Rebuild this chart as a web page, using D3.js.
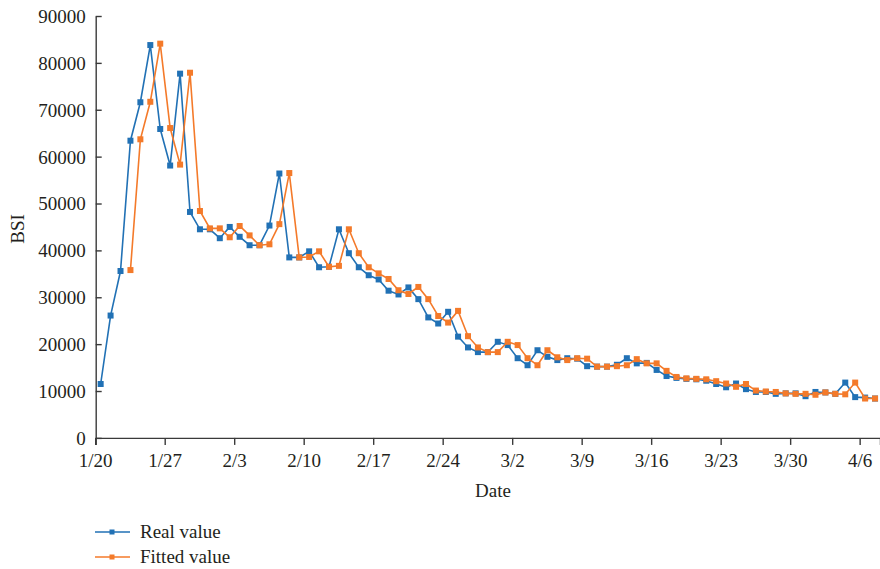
<!DOCTYPE html>
<html>
<head>
<meta charset="utf-8">
<script src="https://cdn.jsdelivr.net/npm/d3@7"></script>
<style>
  body { margin: 0; background: #fff; }
  text { font-family: "Liberation Serif", "Times New Roman", serif; fill: #231f20; }
</style>
</head>
<body>
<svg id="chart" width="880" height="569"></svg>
<script>
// daily BSI values, 1/20 .. 4/7
const realValue = [
  11500, 26100, 35600, 63400, 71600, 83800, 65900, 58100, 77700, 48200,
  44500, 44500, 42600, 45000, 42900, 41100, 41100, 45300, 56400, 38500,
  38500, 39800, 36400, 36500, 44500, 39400, 36400, 34700, 33800, 31400,
  30600, 32100, 29600, 25700, 24400, 26900, 21600, 19300, 18300, 18300,
  20500, 19800, 17000, 15500, 18700, 17300, 16600, 17000, 16900, 15300,
  15200, 15200, 15600, 17000, 15900, 16000, 14500, 13200, 12800, 12600,
  12500, 12200, 11500, 10800, 11600, 10400, 9800, 9800, 9400, 9500,
  9500, 8900, 9800, 9700, 9400, 11800, 8700, 8600, 8400
];

// fitted series starts on 1/23
const fittedValue = [
  null, null, null, 35800, 63700, 71700, 84100, 66100, 58300, 77900,
  48400, 44700, 44700, 42800, 45200, 43200, 41100, 41300, 45600, 56500,
  38500, 38600, 39800, 36500, 36700, 44500, 39400, 36400, 35100, 33900,
  31500, 30700, 32200, 29600, 26000, 24600, 27100, 21700, 19300, 18300,
  18300, 20500, 19800, 17000, 15500, 18700, 17200, 16600, 17000, 16900,
  15200, 15200, 15300, 15500, 16800, 15900, 15900, 14300, 13000, 12700,
  12600, 12500, 12100, 11600, 10900, 11500, 10100, 9900, 9800, 9500,
  9400, 9400, 9200, 9700, 9400, 9300, 11800, 8400, 8400
];

const dateTicks = ["1/20", "1/27", "2/3", "2/10", "2/17", "2/24", "3/2", "3/9", "3/16", "3/23", "3/30", "4/6"];
const yTicks = [0, 10000, 20000, 30000, 40000, 50000, 60000, 70000, 80000, 90000];

const series = [
  { name: "Real value", values: realValue, color: "#2171b5" },
  { name: "Fitted value", values: fittedValue, color: "#f47a2a" }
];

const margin = { top: 16, left: 95.7, bottom: 437.9, right: 880 };
const svg = d3.select("#chart");

const days = d3.range(realValue.length);
const x = d3.scaleBand()
  .domain(days)
  .range([margin.left, margin.right])
  .paddingInner(0)
  .paddingOuter(0);

const y = d3.scaleLinear()
  .domain([0, 90000])
  .range([margin.bottom, margin.top]);

const cx = i => x(i) + x.bandwidth() / 2;

// y axis, ticks pointing inward
const yAxis = svg.append("g")
  .attr("transform", `translate(${margin.left},0)`)
  .call(d3.axisLeft(y).tickValues(yTicks).tickSizeInner(-6).tickSizeOuter(0).tickPadding(10).tickFormat(d3.format("d")));

// x axis, tick at the start of every 7th day
const xAxis = svg.append("g")
  .attr("transform", `translate(0,${margin.bottom})`)
  .call(d3.axisBottom(x)
    .tickValues(d3.range(0, realValue.length, 7))
    .tickFormat((d, i) => dateTicks[i])
    .tickSizeOuter(0)
    .tickSize(7)
    .tickPadding(9));
xAxis.selectAll(".tick").attr("transform", d => `translate(${x(d)},0)`);

[yAxis, xAxis].forEach(a => {
  a.selectAll("path, line").attr("stroke", "#3a3a3a").attr("stroke-width", 1.4);
  a.selectAll("text").attr("font-size", 19).attr("fill", "#231f20")
    .style("font-family", "'Liberation Serif', serif");
});
yAxis.selectAll("text").attr("dy", "0.34em");

// axis titles
svg.append("text")
  .attr("x", 493).attr("y", 497)
  .attr("text-anchor", "middle")
  .attr("font-size", 19)
  .text("Date");

svg.append("text")
  .attr("transform", "translate(24,229) rotate(-90)")
  .attr("text-anchor", "middle")
  .attr("font-size", 19)
  .text("BSI");

// lines and square markers
const line = d3.line()
  .defined(d => d.v != null)
  .x(d => cx(d.i))
  .y(d => y(d.v));

series.forEach(s => {
  const pts = s.values.map((v, i) => ({ i, v })).filter(d => d.v != null);
  svg.append("path")
    .datum(pts)
    .attr("fill", "none")
    .attr("stroke", s.color)
    .attr("stroke-width", 1.6)
    .attr("d", line);
  svg.append("g")
    .selectAll("rect")
    .data(pts)
    .join("rect")
    .attr("x", d => cx(d.i) - 3)
    .attr("y", d => y(d.v) - 3)
    .attr("width", 6)
    .attr("height", 6)
    .attr("fill", s.color);
});

// legend
const legend = svg.append("g").attr("transform", "translate(95,532)");
series.forEach((s, k) => {
  const row = legend.append("g").attr("transform", `translate(0,${k * 25})`);
  row.append("line")
    .attr("x1", 0).attr("x2", 35)
    .attr("stroke", s.color).attr("stroke-width", 1.6);
  row.append("rect")
    .attr("x", 14.5).attr("y", -2.5).attr("width", 5).attr("height", 5)
    .attr("fill", s.color);
  row.append("text")
    .attr("x", 45).attr("dy", "0.34em")
    .attr("font-size", 19)
    .text(s.name);
});
</script>
</body>
</html>
